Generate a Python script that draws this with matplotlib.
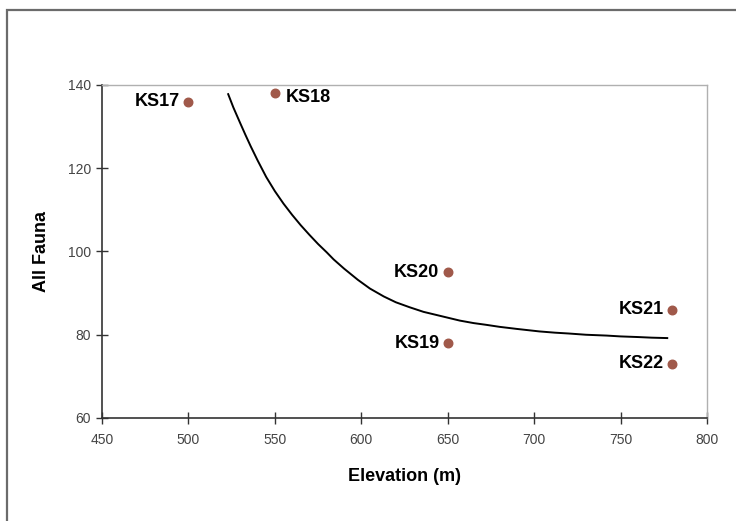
import matplotlib.pyplot as plt
from matplotlib.patches import Rectangle

plt.rcParams['font.family'] = ['Liberation Sans', 'DejaVu Sans']

# sampling sites
site_names = ['KS17', 'KS18', 'KS19', 'KS20', 'KS21', 'KS22']
elevation = [500, 550, 650, 650, 780, 780]
all_fauna = [136, 138, 78, 95, 86, 73]
label_side = ['left', 'right', 'left', 'left', 'left', 'left']

# trend line
trend_x = [523, 526, 530, 533, 536, 540, 545, 550, 555, 560, 565, 570, 575,
           580, 584, 590, 598, 605, 613, 620, 628, 636, 645, 651, 657, 665,
           672, 680, 690, 703, 712, 720, 730, 742, 750, 760, 768, 777]
trend_y = [137.8, 134.6, 130.8, 128.0, 125.3, 121.9, 117.9, 114.5, 111.5,
           108.8, 106.3, 104.0, 101.8, 99.8, 98.1, 95.9, 93.2, 91.1, 89.2,
           87.8, 86.6, 85.5, 84.6, 84.0, 83.4, 82.8, 82.4, 81.9, 81.4, 80.8,
           80.5, 80.3, 80.0, 79.8, 79.6, 79.45, 79.3, 79.2]

fig = plt.figure(figsize=(7.36, 5.21), dpi=100)

# outer chart border
fig.patches.append(Rectangle((7 / 736, -0.05), 1.0, 1.0 - 10 / 521 + 0.05,
                             transform=fig.transFigure, fill=False,
                             edgecolor='#6b6b6b', linewidth=1.6))

ax = fig.add_axes([102 / 736, 1 - 418 / 521, 605 / 736, 333 / 521])

ax.plot(trend_x, trend_y, color='black', linewidth=1.4, zorder=2)
ax.scatter(elevation, all_fauna, s=38, color='#a0594a', zorder=3)

for name, x, y, side in zip(site_names, elevation, all_fauna, label_side):
    if side == 'left':
        ax.annotate(name, (x, y), xytext=(-6, 0), textcoords='offset points',
                    ha='right', va='center', fontsize=13, fontweight='bold')
    else:
        ax.annotate(name, (x, y), xytext=(7.5, -3), textcoords='offset points',
                    ha='left', va='center', fontsize=13, fontweight='bold')

ax.set_xlim(450, 800)
ax.set_ylim(60, 140)
ax.set_xticks(range(450, 801, 50))
ax.set_yticks(range(60, 141, 20))

for side in ['left', 'bottom']:
    ax.spines[side].set_color('#333333')
    ax.spines[side].set_linewidth(1.2)
for side in ['top', 'right']:
    ax.spines[side].set_color('#b0b0b0')
    ax.spines[side].set_linewidth(1.0)

ax.tick_params(direction='inout', length=8, width=1, color='#333333',
               labelsize=10, labelcolor='#444444')
ax.tick_params(axis='x', pad=7)
ax.tick_params(axis='y', pad=4)

ax.set_xlabel('Elevation (m)', fontsize=13, fontweight='bold', labelpad=15)
ax.set_ylabel('All Fauna', fontsize=13, fontweight='bold', labelpad=13)

fig.savefig('out.png', dpi=100)
